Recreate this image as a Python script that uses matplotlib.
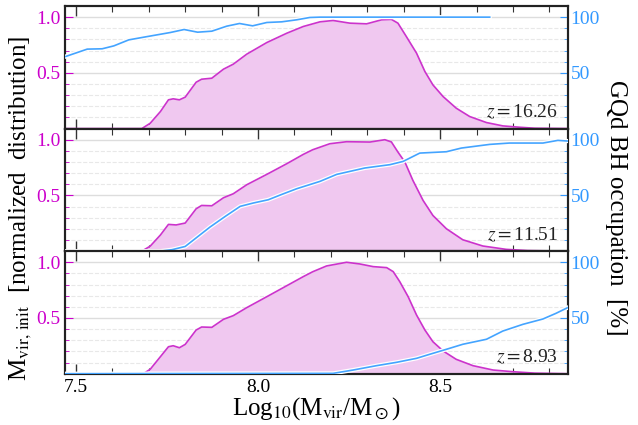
import numpy as np
import matplotlib
matplotlib.use("Agg")
import matplotlib.pyplot as plt
import matplotlib.patheffects as pe
from matplotlib.ticker import MultipleLocator

plt.rcParams['font.family'] = ['Liberation Serif', 'DejaVu Serif']
plt.rcParams['mathtext.fontset'] = 'stix'

MAGENTA = '#cc33cc'
MAG_TXT = '#cc00cc'
FILL = '#f0c8f0'
BLUE = '#44a4ff'
BLUE_TXT = '#3399ff'

redshifts = ['16.26', '11.51', '8.93']

# normalized M_vir,init distribution (left axis)
dist_x = [[7.47, 7.681, 7.704, 7.732, 7.754, 7.767, 7.784, 7.800, 7.830, 7.845, 7.873,
           7.905, 7.932, 7.969, 8.024, 8.079, 8.124, 8.170, 8.206, 8.252, 8.298, 8.339,
           8.366, 8.384, 8.407, 8.435, 8.458, 8.480, 8.508, 8.544, 8.581, 8.627, 8.672,
           8.718, 8.760, 8.85],
          [7.47, 7.681, 7.704, 7.732, 7.754, 7.775, 7.800, 7.830, 7.845, 7.873, 7.905,
           7.932, 7.969, 8.024, 8.079, 8.124, 8.150, 8.197, 8.243, 8.307, 8.348, 8.366,
           8.384, 8.403, 8.425, 8.453, 8.480, 8.517, 8.562, 8.617, 8.681, 8.740, 8.85],
          [7.47, 7.685, 7.704, 7.732, 7.754, 7.767, 7.784, 7.800, 7.830, 7.845, 7.873,
           7.905, 7.932, 7.969, 8.024, 8.079, 8.124, 8.150, 8.188, 8.243, 8.279, 8.316,
           8.353, 8.371, 8.389, 8.412, 8.435, 8.458, 8.480, 8.508, 8.544, 8.590, 8.645,
           8.699, 8.760, 8.85]]
dist_y = [[0.0, 0.0, 0.048, 0.153, 0.258, 0.267, 0.258, 0.282, 0.416, 0.443, 0.452,
           0.533, 0.578, 0.668, 0.772, 0.856, 0.916, 0.958, 0.970, 0.946, 0.940, 0.976,
           0.98, 0.946, 0.826, 0.677, 0.512, 0.392, 0.287, 0.183, 0.108, 0.054, 0.024,
           0.012, 0.003, 0.0],
          [0.0, 0.0, 0.045, 0.145, 0.240, 0.235, 0.252, 0.380, 0.410, 0.407, 0.479,
           0.515, 0.596, 0.689, 0.785, 0.868, 0.910, 0.964, 0.982, 0.979, 1.0, 0.98,
           0.889, 0.80, 0.635, 0.455, 0.320, 0.201, 0.102, 0.046, 0.016, 0.005, 0.0],
          [0.0, 0.0, 0.040, 0.153, 0.242, 0.251, 0.233, 0.263, 0.392, 0.419, 0.416,
           0.488, 0.521, 0.593, 0.691, 0.790, 0.871, 0.915, 0.967, 1.0, 0.985, 0.961,
           0.952, 0.916, 0.826, 0.691, 0.527, 0.392, 0.287, 0.204, 0.129, 0.072, 0.033,
           0.018, 0.005, 0.0]]

# GQd BH occupation in percent (right axis)
occ_x = [[7.471, 7.531, 7.572, 7.604, 7.645, 7.686, 7.759, 7.797, 7.834, 7.873, 7.914,
          7.949, 7.985, 8.024, 8.065, 8.106, 8.142, 8.17, 8.636],
         [7.47, 7.732, 7.764, 7.800, 7.868, 7.910, 7.951, 7.987, 8.028, 8.065, 8.106,
          8.170, 8.216, 8.293, 8.362, 8.398, 8.444, 8.517, 8.558, 8.636, 8.690, 8.782,
          8.823, 8.85],
         [7.47, 8.206, 8.261, 8.325, 8.380, 8.435, 8.471, 8.517, 8.562, 8.627, 8.672,
          8.727, 8.782, 8.818, 8.85]]
occ_y = [[64.6, 71.3, 71.6, 74.2, 79.6, 82.0, 86.2, 88.9, 86.5, 87.4, 91.9,
          94.3, 92.2, 95.2, 95.8, 97.6, 99.7, 100.0, 100.0],
         [0.0, 0.0, 1.3, 4.2, 21.6, 31.2, 40.2, 43.2, 46.1, 50.9, 56.0,
          62.6, 68.9, 74.6, 77.6, 80.5, 88.0, 89.2, 92.5, 95.8, 97.0, 97.0,
          99.4, 98.8],
         [0.0, 0.3, 3.3, 7.2, 10.2, 13.8, 17.4, 21.9, 26.4, 30.9, 38.3,
          44.3, 49.1, 54.2, 59.3]]

fig = plt.figure(figsize=(6.38, 4.25), dpi=100)
left, right = 65 / 638, 567.7 / 638
top, bottom = 1 - 6 / 425, 1 - 373.7 / 425
h = (top - bottom) / 3

for i in range(3):
    ax = fig.add_axes([left, top - (i + 1) * h, right - left, h])
    ax.fill_between(dist_x[i], dist_y[i], 0, color=FILL, lw=0, zorder=1)
    ax.plot(dist_x[i], dist_y[i], color=MAGENTA, lw=1.2, zorder=2)
    ax.set_xlim(7.47, 8.85)
    ax.set_ylim(0, 1.1)
    ax.set_yticks([0.5, 1.0])
    ax.set_yticklabels(['0.5', '1.0'])
    ax.yaxis.set_minor_locator(MultipleLocator(0.1))
    ax.xaxis.set_major_locator(MultipleLocator(0.5))
    ax.xaxis.set_minor_locator(MultipleLocator(0.1))
    ax.grid(True, which='major', axis='y', color='#dddddd', lw=1.0, zorder=0)
    ax.grid(True, which='minor', axis='y', color='#e8e8e8', lw=0.8, ls='--', zorder=0)
    ax.set_axisbelow(True)
    ax.tick_params(axis='y', which='both', direction='in', colors=MAG_TXT,
                   labelsize=14, left=True, right=False, pad=3)
    ax.tick_params(axis='y', which='major', length=6)
    ax.tick_params(axis='y', which='minor', length=3)
    ax.tick_params(axis='x', which='both', direction='in', top=True, bottom=True,
                   labelsize=14, color='#333333')
    ax.tick_params(axis='x', which='major', length=7, width=1.0)
    ax.tick_params(axis='x', which='minor', length=4, width=0.8)
    for s in ax.spines.values():
        s.set_linewidth(1.5)
        s.set_color('#222222')
    if i < 2:
        ax.set_xticklabels([])
    else:
        ax.set_xticks([7.5, 8.0, 8.5])
        ax.set_xticklabels(['7.5', '8.0', '8.5'])
        ax.set_xlabel(r'Log$_{10}$(M$_{\rm vir}$/M$_\odot$)', fontsize=18, labelpad=0)

    ax2 = ax.twinx()
    ax2.set_ylim(0, 110)
    ax2.plot(occ_x[i], occ_y[i], color=BLUE, lw=1.2, zorder=3,
             path_effects=[pe.Stroke(linewidth=3, foreground='white'), pe.Normal()])
    ax2.set_yticks([50, 100])
    ax2.set_yticklabels(['50', '100'])
    ax2.yaxis.set_minor_locator(MultipleLocator(10))
    ax2.tick_params(axis='y', which='both', direction='in', colors=BLUE_TXT,
                    labelsize=14, pad=2)
    ax2.tick_params(axis='y', which='major', length=6)
    ax2.tick_params(axis='y', which='minor', length=3)
    for s in ax2.spines.values():
        s.set_linewidth(1.5)
        s.set_color('#222222')
    ax2.text(0.981, 0.09, r'$z = $' + redshifts[i], transform=ax2.transAxes,
             ha='right', va='baseline', fontsize=14, color='#222222')

fig.text(0.033, 0.51, r'M$_{\rm vir,\,init}$  [normalized  distribution]',
         rotation=90, ha='center', va='center', fontsize=18)
fig.text(0.965, 0.51, r'GQd BH occupation  [%]', rotation=270,
         ha='center', va='center', fontsize=18)

fig.savefig('out.png', dpi=100)
